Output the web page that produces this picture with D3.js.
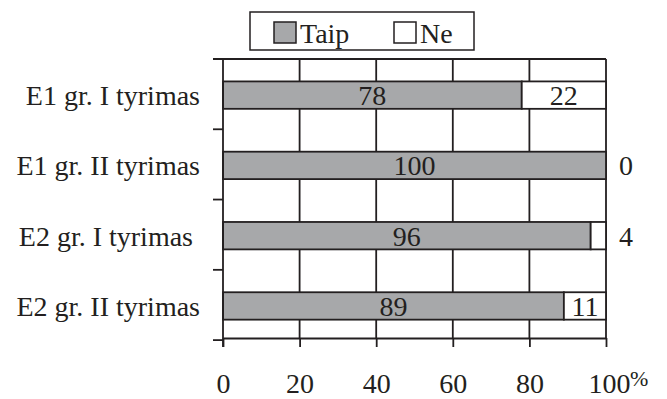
<!DOCTYPE html>
<html><head><meta charset="utf-8">
<script src="https://cdn.jsdelivr.net/npm/d3@7/dist/d3.min.js"></script>
<style>
html,body{margin:0;padding:0;background:#fff;}
svg text{font-family:"Liberation Serif","Times New Roman",serif;fill:#231f20;}
</style></head>
<body><svg id="c" width="667" height="399"></svg>
<script>
const categories = ["E1 gr. I tyrimas", "E1 gr. II tyrimas", "E2 gr. I tyrimas ", "E2 gr. II tyrimas"];
const taip = [78, 100, 96, 89];
const ne = [22, 0, 4, 11];
const seriesNames = ["Taip", "Ne"];
const xTicks = [0, 20, 40, 60, 80, 100];

const ink = "#231f20", gray = "#a7a8aa";
const svg = d3.select("#c");
const L = 223, R = 606, T = 59, B = 338;
const x = d3.scaleLinear().domain([0, 100]).range([L, R]);
const y = d3.scaleBand().domain(categories).range([T, B]).paddingInner(0.61).paddingOuter(0.29).align(0.55);
const step = y.step();

// grid lines
svg.append("g").selectAll("line").data(xTicks.filter(d => d > 0)).join("line")
  .attr("x1", d => x(d)).attr("x2", d => x(d)).attr("y1", T).attr("y2", B)
  .attr("stroke", ink).attr("stroke-width", 1.8);
// top frame
svg.append("line").attr("x1", L - 10).attr("x2", R).attr("y1", T).attr("y2", T)
  .attr("stroke", ink).attr("stroke-width", 1.8);

// bars
const rows = categories.map((c, i) => ({c, taip: taip[i], ne: ne[i]}));
const g = svg.append("g");
rows.forEach(r => {
  const y0 = y(r.c), h = y.bandwidth();
  g.append("rect").attr("x", x(0)).attr("y", y0).attr("width", x(r.taip) - x(0)).attr("height", h)
    .attr("fill", gray).attr("stroke", ink).attr("stroke-width", 1.8);
  if (r.ne > 0) g.append("rect").attr("x", x(r.taip)).attr("y", y0).attr("width", x(r.taip + r.ne) - x(r.taip)).attr("height", h)
    .attr("fill", "#fff").attr("stroke", ink).attr("stroke-width", 1.8);
  g.append("text").attr("x", (x(0) + x(r.taip)) / 2).attr("y", y0 + h / 2).attr("dy", "0.36em")
    .attr("text-anchor", "middle").attr("font-size", 28).text(r.taip);
  const neX = r.ne >= 10 ? (x(r.taip) + x(100)) / 2 : x(100) + 20;
  g.append("text").attr("x", neX).attr("y", y0 + h / 2).attr("dy", "0.36em")
    .attr("text-anchor", "middle").attr("font-size", 28).text(r.ne);
});

// left axis
svg.append("line").attr("x1", L).attr("x2", L).attr("y1", T).attr("y2", B + 9)
  .attr("stroke", ink).attr("stroke-width", 1.8);
const bounds = d3.range(categories.length + 1).map(i => T + i * step);
svg.append("g").selectAll("line").data(bounds).join("line")
  .attr("x1", L - 10).attr("x2", L).attr("y1", d => d).attr("y2", d => d)
  .attr("stroke", ink).attr("stroke-width", 1.8);
svg.append("g").selectAll("text").data(categories).join("text")
  .attr("x", 200).attr("y", d => y(d) + y.bandwidth() / 2).attr("dy", "0.36em")
  .attr("text-anchor", "end").attr("font-size", 28).attr("xml:space", "preserve")
  .style("white-space", "pre").text(d => d);

// bottom axis
const ax = svg.append("g").attr("transform", `translate(0,${B})`)
  .call(d3.axisBottom(x).tickValues(xTicks).tickFormat(d => d).tickSize(9).tickSizeOuter(0).tickPadding(26));
ax.select(".domain").attr("stroke", ink).attr("stroke-width", 1.8);
ax.selectAll(".tick line").attr("stroke", ink).attr("stroke-width", 1.8);
ax.selectAll(".tick text").attr("font-size", 28).attr("font-family", "Liberation Serif").attr("fill", ink)
  .attr("dx", d => d === 100 ? 3 : 0);
svg.append("text").attr("x", 630).attr("y", 386).attr("font-size", 22).text("%");

// legend
svg.append("rect").attr("x", 250).attr("y", 12).attr("width", 224).attr("height", 38)
  .attr("fill", "#fff").attr("stroke", ink).attr("stroke-width", 1.5);
const lx = [274, 394], fills = [gray, "#fff"];
seriesNames.forEach((n, i) => {
  svg.append("rect").attr("x", lx[i]).attr("y", 22).attr("width", 22).attr("height", 21)
    .attr("fill", fills[i]).attr("stroke", ink).attr("stroke-width", 1.5);
  svg.append("text").attr("x", lx[i] + 26).attr("y", 43).attr("font-size", 28).text(n);
});
</script></body></html>
